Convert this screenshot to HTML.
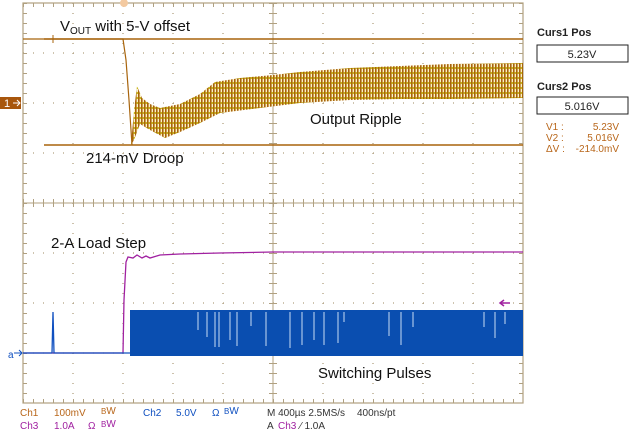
<!DOCTYPE html><html><head><style>body{margin:0;background:#fff}svg{display:block}text{font-family:"Liberation Sans",sans-serif}</style></head><body>
<svg width="633" height="432" viewBox="0 0 633 432" xmlns="http://www.w3.org/2000/svg">
<defs>
<pattern id="st" width="3" height="5" patternUnits="userSpaceOnUse"><rect width="3" height="5" fill="#fbf0c8"/><rect width="1.6" height="5" fill="#a8640c"/><rect x="1.6" y="2" width="1.4" height="2" fill="#c8b818"/></pattern>
</defs>
<rect x="23" y="3" width="500" height="400" fill="none" stroke="#b0a080" stroke-width="1.2"/>
<g stroke="#b0a080" stroke-width="1">
<line x1="273" y1="3" x2="273" y2="403"/><line x1="23" y1="203" x2="523" y2="203"/>
<g stroke-dasharray="1 9" stroke-width="1.3">
<line x1="73" y1="3" x2="73" y2="403"/><line x1="123" y1="3" x2="123" y2="403"/><line x1="173" y1="3" x2="173" y2="403"/><line x1="223" y1="3" x2="223" y2="403"/>
<line x1="323" y1="3" x2="323" y2="403"/><line x1="373" y1="3" x2="373" y2="403"/><line x1="423" y1="3" x2="423" y2="403"/><line x1="473" y1="3" x2="473" y2="403"/>
<line x1="23" y1="53" x2="523" y2="53"/><line x1="23" y1="103" x2="523" y2="103"/><line x1="23" y1="153" x2="523" y2="153"/>
<line x1="23" y1="253" x2="523" y2="253"/><line x1="23" y1="303" x2="523" y2="303"/><line x1="23" y1="353" x2="523" y2="353"/>
</g>
<g stroke-dasharray="1 9">
<line x1="23" y1="5" x2="523" y2="5" stroke-width="4"/>
<line x1="23" y1="401" x2="523" y2="401" stroke-width="4"/>
<line x1="25" y1="3" x2="25" y2="403" stroke-width="4"/>
<line x1="521" y1="3" x2="521" y2="403" stroke-width="4"/>
<line x1="273" y1="3" x2="273" y2="403" stroke-width="8"/>
<line x1="23" y1="203" x2="523" y2="203" stroke-width="8"/>
</g>
</g>
<!-- Vout band -->
<polygon fill="url(#st)" points="131,145 134,110 137,86 142,98 150,104 160,108 180,104 200,94 215,82 240,78 273,75 300,72 350,68 400,66 450,64 523,63 523,98 450,99 400,99 350,100 300,103 260,108 220,113 200,123 180,132 165,138 150,130 140,124 134,140"/>
<polyline fill="none" stroke="#a8640c" stroke-width="1.2" points="23,39 123,39 126,60 129,100 132,145"/>
<line x1="44" y1="39" x2="523" y2="39" stroke="#a8640c" stroke-width="1.5"/>
<line x1="44" y1="145" x2="523" y2="145" stroke="#a8640c" stroke-width="1.5"/>
<line x1="53" y1="35" x2="53" y2="43" stroke="#a8640c"/>
<circle cx="124" cy="3" r="4" fill="#f3c9a0"/>
<!-- magenta -->
<polyline fill="none" stroke="#a020a0" stroke-width="1.3" points="23,353 123,353 124,300 126,262 128,257 133,258 137,255 142,258 146,256 150,258 160,255 180,254 220,253 273,252 523,252"/>
<!-- blue -->
<polyline fill="none" stroke="#1050c0" stroke-width="1.3" points="23,353 52,353 53,312 54,353 130,353"/>
<rect x="130" y="310" width="393" height="46" fill="#0a4eb0"/>
<g stroke="#c8dcf5" stroke-width="1">
<line x1="198" y1="312" x2="198" y2="330"/><line x1="207" y1="312" x2="207" y2="337"/><line x1="215" y1="312" x2="215" y2="347"/><line x1="219" y1="312" x2="219" y2="347"/>
<line x1="230" y1="312" x2="230" y2="340"/><line x1="237" y1="312" x2="237" y2="346"/><line x1="251" y1="312" x2="251" y2="326"/><line x1="266" y1="312" x2="266" y2="346"/>
<line x1="290" y1="312" x2="290" y2="348"/><line x1="302" y1="312" x2="302" y2="345"/><line x1="314" y1="312" x2="314" y2="340"/><line x1="324" y1="312" x2="324" y2="345"/>
<line x1="338" y1="312" x2="338" y2="343"/><line x1="344" y1="312" x2="344" y2="322"/><line x1="389" y1="312" x2="389" y2="336"/><line x1="401" y1="312" x2="401" y2="345"/><line x1="413" y1="312" x2="413" y2="327"/>
<line x1="484" y1="312" x2="484" y2="327"/><line x1="495" y1="312" x2="495" y2="338"/><line x1="505" y1="312" x2="505" y2="324"/>
</g>
<!-- markers -->
<rect x="0" y="97" width="21" height="12" fill="#a8560c"/>
<text x="4" y="107" font-size="11" fill="#fff">1</text><path d="M13,103 h7 M17,100 l3,3 -3,3" stroke="#fff" fill="none"/>
<text x="8" y="358" font-size="10" fill="#1050c0">a</text><path d="M14,353 h8 M19,350 l3,3 -3,3" stroke="#1050c0" fill="none"/>
<path d="M510,303 h-10 M504,300 l-4,3 4,3" stroke="#a020a0" stroke-width="1.5" fill="none"/>
<!-- labels -->
<text x="60" y="31" font-size="15" fill="#111">V<tspan font-size="10" dy="3">OUT</tspan><tspan dy="-3"> with 5-V offset</tspan></text>
<text x="86" y="163" font-size="15" fill="#111">214-mV Droop</text>
<text x="310" y="124" font-size="15" fill="#111">Output Ripple</text>
<text x="51" y="248" font-size="15" fill="#111">2-A Load Step</text>
<text x="318" y="378" font-size="15" fill="#111">Switching Pulses</text>
<!-- right panel -->
<text x="537" y="36" font-size="11" font-weight="bold" fill="#222">Curs1 Pos</text>
<rect x="537" y="45" width="91" height="17" fill="#fff" stroke="#222"/>
<text x="582" y="58" font-size="11" fill="#222" text-anchor="middle">5.23V</text>
<text x="537" y="90" font-size="11" font-weight="bold" fill="#222">Curs2 Pos</text>
<rect x="537" y="97" width="91" height="17" fill="#fff" stroke="#222"/>
<text x="582" y="110" font-size="11" fill="#222" text-anchor="middle">5.016V</text>
<g font-size="10" fill="#b8661a">
<text x="546" y="130">V1 :</text><text x="619" y="130" text-anchor="end">5.23V</text>
<text x="546" y="141">V2 :</text><text x="619" y="141" text-anchor="end">5.016V</text>
<text x="546" y="152">ΔV :</text><text x="619" y="152" text-anchor="end">-214.0mV</text>
</g>
<!-- bottom status -->
<g font-size="10">
<text x="20" y="416" fill="#b8661a">Ch1</text><text x="54" y="416" fill="#b8661a">100mV</text><text x="101" y="414" font-size="8" fill="#b8661a">B<tspan font-size="10">W</tspan></text>
<text x="143" y="416" fill="#1050c0">Ch2</text><text x="176" y="416" fill="#1050c0">5.0V</text><text x="212" y="416" fill="#1050c0">Ω</text><text x="224" y="414" font-size="8" fill="#1050c0">B<tspan font-size="10">W</tspan></text>
<text x="267" y="416" fill="#333">M 400µs 2.5MS/s</text><text x="357" y="416" fill="#333">400ns/pt</text>
<text x="20" y="429" fill="#a020a0">Ch3</text><text x="54" y="429" fill="#a020a0">1.0A</text><text x="88" y="429" fill="#a020a0">Ω</text><text x="101" y="427" font-size="8" fill="#a020a0">B<tspan font-size="10">W</tspan></text>
<text x="267" y="429" fill="#333">A</text><text x="278" y="429" fill="#a020a0">Ch3</text><text x="300" y="429" fill="#333">⁄ 1.0A</text>
</g>
</svg>
</body></html>
